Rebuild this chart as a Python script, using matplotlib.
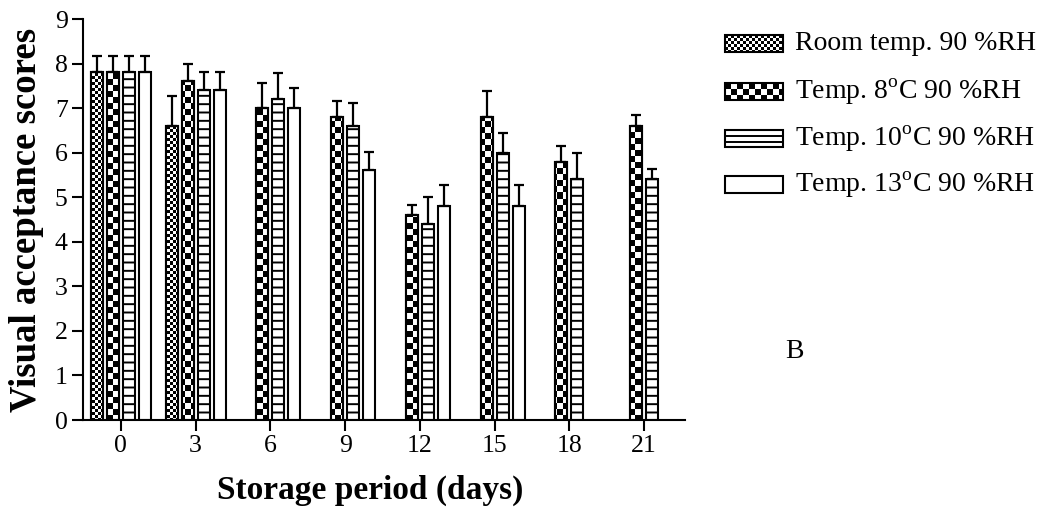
import numpy as np
import matplotlib
matplotlib.use("Agg")
import matplotlib.pyplot as plt
from matplotlib.patches import Rectangle

plt.rcParams['font.family'] = 'Liberation Serif'
plt.rcParams['mathtext.fontset'] = 'custom'
plt.rcParams['mathtext.rm'] = 'Liberation Serif'
plt.rcParams['hatch.linewidth'] = 1.4

# data
nan = np.nan
days = [0, 3, 6, 9, 12, 15, 18, 21]
room = [7.8, 6.6, nan, nan, nan, nan, nan, nan]
room_err = [0.37, 0.68, nan, nan, nan, nan, nan, nan]
t8 = [7.8, 7.6, 7.0, 6.8, 4.6, 6.8, 5.8, 6.6]
t8_err = [0.37, 0.4, 0.56, 0.37, 0.22, 0.58, 0.36, 0.24]
t10 = [7.8, 7.4, 7.2, 6.6, 4.4, 6.0, 5.4, 5.4]
t10_err = [0.37, 0.4, 0.59, 0.51, 0.6, 0.44, 0.6, 0.23]
t13 = [7.8, 7.4, 7.0, 5.6, 4.8, 4.8, nan, nan]
t13_err = [0.37, 0.4, 0.45, 0.41, 0.47, 0.47, nan, nan]
labels = ["Room temp. 90 %RH",
          "Temp. 8$^{\\mathrm{o}}$C 90 %RH",
          "Temp. 10$^{\\mathrm{o}}$C 90 %RH",
          "Temp. 13$^{\\mathrm{o}}$C 90 %RH"]


def checker(h, w, cell):
    i = np.arange(h)[:, None] // cell
    j = np.arange(w)[None, :] // cell
    return ((i + j) % 2).astype(float)


W, H = 1047, 511
fig = plt.figure(figsize=(W / 100, H / 100), dpi=100)
ax = fig.add_axes([83 / W, 91 / H, 602 / W, 401 / H])

x = np.arange(len(days))
pitch = 16 / 75
width = 12 / 75
xmin, xmax = -38 / 75, 7 + 41 / 75

# (values, errors, hatch, checker cell px)
series = [(room, room_err, None, 3),
          (t8, t8_err, None, 6),
          (t10, t10_err, '--', None),
          (t13, t13_err, None, None)]

for k, (vals, errs, hatch, cell) in enumerate(series):
    xs = x + (k - 1.5) * pitch
    vals = np.array(vals)
    errs = np.array(errs)
    ok = ~np.isnan(vals)
    bars = ax.bar(xs[ok], vals[ok], width, color='white', edgecolor='black',
                  linewidth=1.5, hatch=hatch, zorder=1)
    if cell is not None:
        img = checker(401, 602, cell)
        for b in bars:
            im = ax.imshow(img, extent=(xmin, xmax, 0, 9), cmap='gray',
                           vmin=0, vmax=1, interpolation='nearest',
                           aspect='auto', zorder=2)
            im.set_clip_path(b)
        ax.bar(xs[ok], vals[ok], width, fill=False, edgecolor='black',
               linewidth=1.5, zorder=3)
    ax.errorbar(xs[ok], vals[ok], yerr=[np.zeros(ok.sum()), errs[ok]],
                fmt='none', ecolor='black', elinewidth=1.6, capsize=3.3,
                capthick=1.6, zorder=4)

ax.set_xlim(xmin, xmax)
ax.set_ylim(0, 9)
ax.set_xticks(x)
ax.set_xticklabels([str(d) for d in days])
ax.set_yticks(range(10))
ax.spines['top'].set_visible(False)
ax.spines['right'].set_visible(False)
for s in ['left', 'bottom']:
    ax.spines[s].set_linewidth(1.5)
ax.tick_params(axis='both', labelsize=18.5, width=1.5, length=8, colors='black')
ax.tick_params(axis='x', pad=3)
ax.tick_params(axis='y', pad=3)

fig.text(27 / W, 1 - 220 / H, "Visual acceptance scores", rotation=90,
         fontsize=26.5, fontweight='bold', ha='center', va='center')
fig.text(370 / W, 1 - 490 / H, "Storage period (days)",
         fontsize=24, fontweight='bold', ha='center', va='center')
fig.text(785 / W, 1 - 352 / H, "B", fontsize=20, ha='left', va='center')

# legend drawn by hand in pixel coordinates
lax = fig.add_axes([0, 0, 1, 1])
lax.axis('off')
rows = [44, 92, 139, 185]
for k, cy in enumerate(rows):
    x0, x1 = 725, 783
    y0, y1 = cy - 8.5, cy + 8.5
    cell = series[k][3]
    if cell is not None:
        lax.imshow(checker(17, 58, cell), extent=(x0, x1, y1, y0), cmap='gray',
                   vmin=0, vmax=1, interpolation='nearest', aspect='auto')
    if k == 2:
        for yy in [cy - 2.8, cy + 2.8]:
            lax.plot([x0, x1], [yy, yy], color='black', lw=1.4)
    lax.add_patch(Rectangle((x0, y0), x1 - x0, y1 - y0, fill=False,
                            edgecolor='black', lw=1.5))
    lax.text(795, cy, labels[k], fontsize=20, ha='left', va='center')
lax.set_xlim(0, W)
lax.set_ylim(H, 0)

fig.savefig("out.png", dpi=100)
